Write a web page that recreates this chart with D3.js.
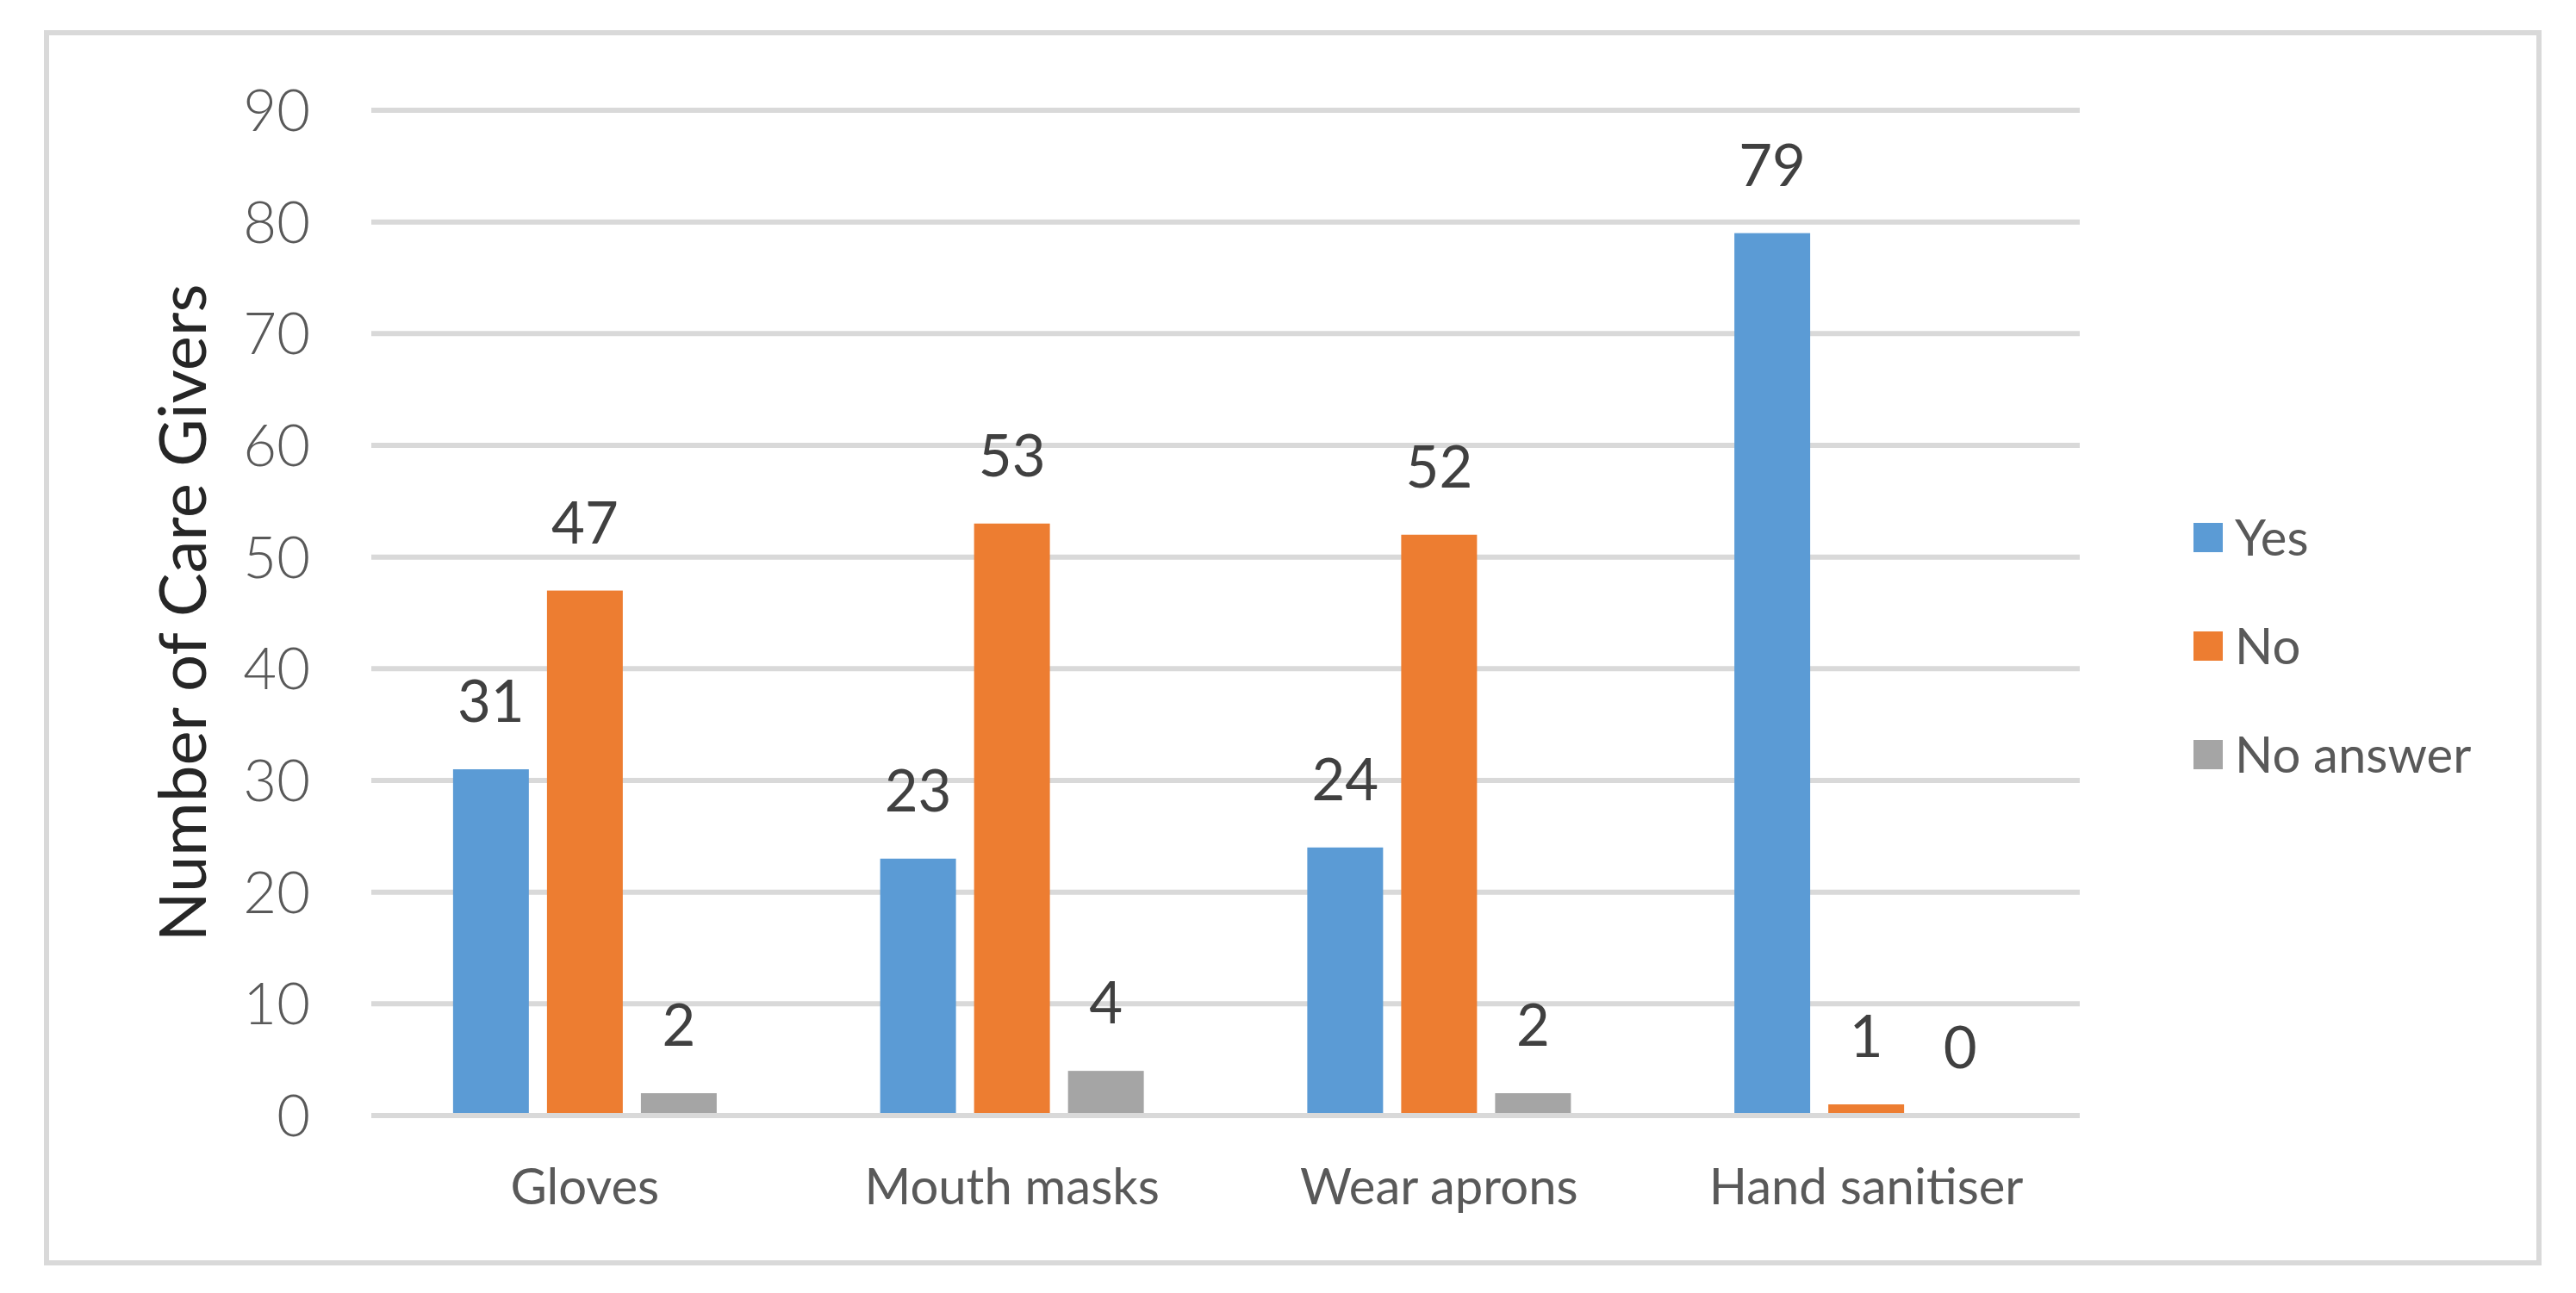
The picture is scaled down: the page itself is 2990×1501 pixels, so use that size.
<!DOCTYPE html>
<html>
<head>
<meta charset="utf-8">
<script src="https://cdn.jsdelivr.net/npm/d3@7"></script>
<style>
  html, body { margin: 0; padding: 0; background: #fff; }
  svg { display: block; }
  .tick-label { font-family: Lato, "Open Sans", sans-serif; font-weight: 300; fill: #595959; }
  .cat-label { font-family: Lato, "Open Sans", sans-serif; fill: #595959; }
  .value-label { font-family: Lato, "Open Sans", sans-serif; fill: #404040; }
  .legend-label { font-family: Lato, "Open Sans", sans-serif; fill: #595959; }
  .axis-title { font-family: Lato, "Open Sans", sans-serif; fill: #262626; }
</style>
</head>
<body>
<div id="chart"></div>
<script>
const categories = ["Gloves", "Mouth masks", "Wear aprons", "Hand sanitiser"];
const seriesNames = ["Yes", "No", "No answer"];
const yesValues = [31, 23, 24, 79];
const noValues = [47, 53, 52, 1];
const noAnswerValues = [2, 4, 2, 0];
const yTicks = [0, 10, 20, 30, 40, 50, 60, 70, 80, 90];
const colors = ["#5b9bd5", "#ed7d31", "#a5a5a5"];

const width = 2990;
const height = 1501;
const plot = { left: 431, right: 2414, top: 128, bottom: 1295 };

const rows = categories.map((c, i) => ({
  category: c,
  values: [yesValues[i], noValues[i], noAnswerValues[i]]
}));

const svg = d3.select("#chart")
  .append("svg")
  .attr("width", width)
  .attr("height", height);

// outer frame
svg.append("rect")
  .attr("x", 54)
  .attr("y", 38)
  .attr("width", 2893)
  .attr("height", 1428)
  .attr("fill", "#fff")
  .attr("stroke", "#d9d9d9")
  .attr("stroke-width", 6);

const x0 = d3.scaleBand().domain(categories).range([plot.left, plot.right]);
const groupW = 306;
const x1 = d3.scaleBand()
  .domain(seriesNames)
  .range([-groupW / 2, groupW / 2])
  .paddingInner(0.193)
  .paddingOuter(0);
const y = d3.scaleLinear().domain([0, 90]).range([plot.bottom, plot.top]);

// gridlines
svg.append("g")
  .selectAll("line")
  .data(yTicks)
  .join("line")
  .attr("x1", plot.left)
  .attr("x2", plot.right)
  .attr("y1", d => y(d))
  .attr("y2", d => y(d))
  .attr("stroke", "#d9d9d9")
  .attr("stroke-width", 6);

// y tick labels
svg.append("g")
  .selectAll("text")
  .data(yTicks)
  .join("text")
  .attr("class", "tick-label")
  .attr("x", 360)
  .attr("y", d => y(d))
  .attr("dy", "0.36em")
  .attr("text-anchor", "end")
  .style("font-size", "67px")
  .text(d => d);

// bars
const groups = svg.append("g")
  .selectAll("g")
  .data(rows)
  .join("g")
  .attr("transform", d => `translate(${x0(d.category) + x0.bandwidth() / 2},0)`);

groups.selectAll("rect")
  .data(d => d.values.map((v, i) => ({ key: seriesNames[i], value: v, i })))
  .join("rect")
  .attr("x", d => x1(d.key))
  .attr("width", x1.bandwidth())
  .attr("y", d => y(d.value))
  .attr("height", d => y(0) - y(d.value) - 3)
  .attr("fill", d => colors[d.i]);

groups.selectAll("text")
  .data(d => d.values.map((v, i) => ({ key: seriesNames[i], value: v, i })))
  .join("text")
  .attr("class", "value-label")
  .attr("x", d => x1(d.key) + x1.bandwidth() / 2)
  .attr("y", d => y(d.value) - 79)
  .attr("dy", "0.36em")
  .attr("text-anchor", "middle")
  .style("font-size", "67px")
  .text(d => d.value);

// category labels
svg.append("g")
  .selectAll("text")
  .data(categories)
  .join("text")
  .attr("class", "cat-label")
  .attr("x", d => x0(d) + x0.bandwidth() / 2)
  .attr("y", 1377)
  .attr("dy", "0.36em")
  .attr("text-anchor", "middle")
  .style("font-size", "58px")
  .text(d => d);

// axis title
svg.append("text")
  .attr("class", "axis-title")
  .attr("transform", `translate(212,${(plot.top + plot.bottom) / 2}) rotate(-90)`)
  .attr("dy", "0.36em")
  .attr("text-anchor", "middle")
  .style("font-size", "76px")
  .text("Number of Care Givers");

// legend
const legend = svg.append("g")
  .selectAll("g")
  .data(seriesNames)
  .join("g")
  .attr("transform", (d, i) => `translate(2546,${624 + i * 126})`);

legend.append("rect")
  .attr("x", 0)
  .attr("y", -17)
  .attr("width", 34)
  .attr("height", 34)
  .attr("fill", (d, i) => colors[i]);

legend.append("text")
  .attr("class", "legend-label")
  .attr("x", 48)
  .attr("y", 0)
  .attr("dy", "0.36em")
  .style("font-size", "58px")
  .text(d => d);
</script>
</body>
</html>
